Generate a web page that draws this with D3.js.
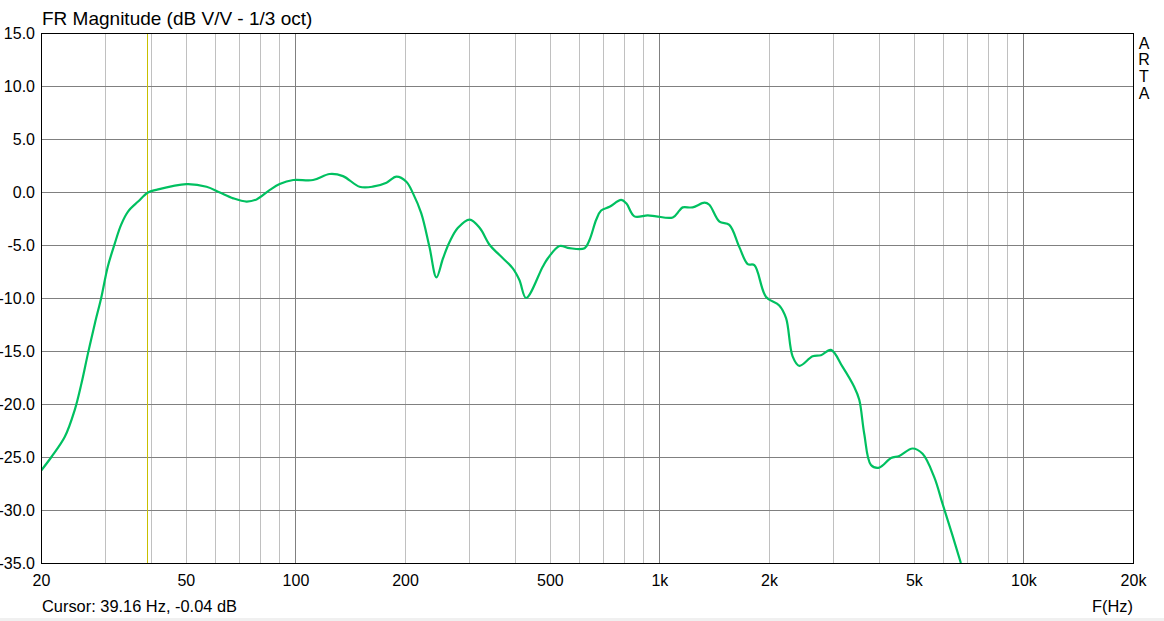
<!DOCTYPE html>
<html>
<head>
<meta charset="utf-8">
<script src="https://cdn.jsdelivr.net/npm/d3@7"></script>
<style>
  body { margin: 0; background: #fff; }
  svg text { font-family: "Liberation Sans", Arial, sans-serif; fill: #000; }
</style>
</head>
<body>
<div id="chart"></div>
<script>
// frequency response (Hz, dB)
var freqs = [20, 21.36, 23.25, 24.74, 25.84, 26.93, 28.12, 29.31, 30.51, 31.9, 33.19, 34.68, 36.97, 39.35, 41.44,
  50.2, 57.0, 62.0, 67.5, 73.4, 78.2, 85.1, 90.5, 98.6, 111.8, 124.2, 135.1, 150, 163, 177.9, 189.4,
  201.7, 210.4, 221.6, 233.5, 244, 254.4, 265.3, 279.2, 301.1, 321, 341.8, 363.7, 395.5, 412.4, 430.3,
  478, 493.9, 531.6, 566.4, 623, 643, 670.7, 691.6, 729.4, 785, 810.9, 853.6, 929.1, 979.8, 1088, 1135, 1159, 1234,
  1330, 1371, 1462, 1556, 1658, 1748, 1823, 1963, 2134, 2228, 2322, 2423, 2635, 2778, 2959,
  3186, 3430, 3540, 3653, 3812, 4017, 4327, 4559, 4959, 5284, 5688, 5994, 6384, 6731];
var magDb = [-26.3, -25.0, -23.1, -20.6, -18.05, -15.2, -12.4, -9.9, -7.05, -4.85, -3.1, -1.85, -0.9, -0.05, 0.2,
  0.75, 0.5, -0.05, -0.6, -0.9, -0.7, 0.2, 0.75, 1.13, 1.13, 1.7, 1.5, 0.5, 0.5, 0.88, 1.45,
  0.97, -0.13, -2.0, -5.2, -8.05, -6.25, -4.7, -3.4, -2.6, -3.4, -5.0, -5.95, -7.2, -8.3, -10.0,
  -7.05, -6.25, -5.1, -5.3, -5.3, -4.5, -2.6, -1.75, -1.4, -0.75, -1.07, -2.3, -2.2, -2.3, -2.4, -1.75, -1.45, -1.45,
  -1.0, -1.2, -2.8, -3.1, -5.2, -6.8, -6.9, -9.9, -10.7, -11.9, -15.5, -16.4, -15.5, -15.4, -14.9,
  -16.5, -18.4, -19.6, -22.8, -25.75, -26.0, -25.1, -24.9, -24.2, -24.7, -26.9, -29.4, -32.4, -35.0];

var xTicks = [20, 50, 100, 200, 500, 1000, 2000, 5000, 10000, 20000];
var xTickLabels = ["20", "50", "100", "200", "500", "1k", "2k", "5k", "10k", "20k"];
var yTicks = [15, 10, 5, 0, -5, -10, -15, -20, -25, -30, -35];
var cursorHz = 39.16;

(function() {
  var width = 1164, height = 621;
  var pLeft = 41, pRight = 1133, pTop = 33, pBottom = 563;
  var font = "'Liberation Sans', Arial, sans-serif";

  var svg = d3.select("#chart").append("svg")
    .attr("width", width).attr("height", height);

  var x = d3.scaleLog().domain([20, 20000]).range([pLeft, pRight]);
  var y = d3.scaleLinear().domain([-35, 15]).range([pBottom, pTop]);

  // grid lines
  var minor = [];
  [10, 100, 1000, 10000].forEach(function(dec) {
    for (var k = 2; k <= 9; k++) {
      var f = dec * k;
      if (f > 20 && f < 20000) minor.push(f);
    }
  });
  svg.append("g").selectAll("line").data(minor).enter().append("line")
    .attr("x1", function(d) { return Math.round(x(d)) + 0.5; })
    .attr("x2", function(d) { return Math.round(x(d)) + 0.5; })
    .attr("y1", pTop).attr("y2", pBottom)
    .attr("stroke", "#c0c0c0").attr("stroke-width", 1);

  svg.append("g").selectAll("line").data([100, 1000, 10000]).enter().append("line")
    .attr("x1", function(d) { return Math.round(x(d)) + 0.5; })
    .attr("x2", function(d) { return Math.round(x(d)) + 0.5; })
    .attr("y1", pTop).attr("y2", pBottom)
    .attr("stroke", "#808080").attr("stroke-width", 1);

  svg.append("g").selectAll("line").data(yTicks.slice(1, -1)).enter().append("line")
    .attr("x1", pLeft).attr("x2", pRight)
    .attr("y1", function(d) { return Math.round(y(d)) + 0.5; })
    .attr("y2", function(d) { return Math.round(y(d)) + 0.5; })
    .attr("stroke", "#808080").attr("stroke-width", 1);

  // cursor
  svg.append("line")
    .attr("x1", Math.round(x(cursorHz)) + 0.5).attr("x2", Math.round(x(cursorHz)) + 0.5)
    .attr("y1", pTop).attr("y2", pBottom)
    .attr("stroke", "#c8c000").attr("stroke-width", 1);

  // curve
  svg.append("defs").append("clipPath").attr("id", "plotclip")
    .append("rect").attr("x", pLeft).attr("y", pTop)
    .attr("width", pRight - pLeft).attr("height", pBottom - pTop);

  var pts = freqs.map(function(f, i) { return [f, magDb[i]]; });
  var line = d3.line()
    .x(function(d) { return x(d[0]); })
    .y(function(d) { return y(d[1]); })
    .curve(d3.curveCatmullRom.alpha(0.5));

  svg.append("path").datum(pts)
    .attr("clip-path", "url(#plotclip)")
    .attr("d", line)
    .attr("fill", "none")
    .attr("stroke", "#00c060")
    .attr("stroke-width", 2.2);

  // border
  svg.append("rect")
    .attr("x", pLeft + 0.5).attr("y", pTop + 0.5)
    .attr("width", pRight - pLeft).attr("height", pBottom - pTop)
    .attr("fill", "none").attr("stroke", "#000").attr("stroke-width", 1);

  // axes text
  var xAxis = d3.axisBottom(x).tickValues(xTicks)
    .tickFormat(function(d, i) { return xTickLabels[i]; })
    .tickSize(0).tickPadding(12);
  var gx = svg.append("g").attr("transform", "translate(0," + pBottom + ")").call(xAxis);
  gx.select(".domain").remove();
  gx.selectAll("text").style("font-size", "16px").style("font-family", font).attr("fill", "#000");

  // plain hyphen minus, like the original
  var yAxis = d3.axisLeft(y).tickValues(yTicks)
    .tickFormat(function(d) { return d.toFixed(1); }).tickSize(0).tickPadding(6);
  var gy = svg.append("g").attr("transform", "translate(" + pLeft + ",0)").call(yAxis);
  gy.select(".domain").remove();
  gy.selectAll("text").style("font-size", "16px").style("font-family", font).attr("fill", "#000");

  svg.append("text").attr("x", 42).attr("y", 25)
    .style("font-size", "19px").text("FR Magnitude (dB V/V - 1/3 oct)");

  svg.append("text").attr("x", 42).attr("y", 612)
    .style("font-size", "16.4px").text("Cursor: 39.16 Hz, -0.04 dB");

  svg.append("text").attr("x", 1133).attr("y", 612).attr("text-anchor", "end")
    .style("font-size", "16.4px").text("F(Hz)");

  svg.selectAll(".arta").data(["A", "R", "T", "A"]).enter().append("text")
    .attr("class", "arta")
    .attr("x", 1144).attr("y", function(d, i) { return 48.5 + i * 16.8; })
    .attr("text-anchor", "middle")
    .style("font-size", "16px").text(function(d) { return d; });

  svg.append("rect").attr("x", 0).attr("y", 618).attr("width", width).attr("height", 3)
    .attr("fill", "#f0f0f0");
})();
</script>
</body>
</html>
